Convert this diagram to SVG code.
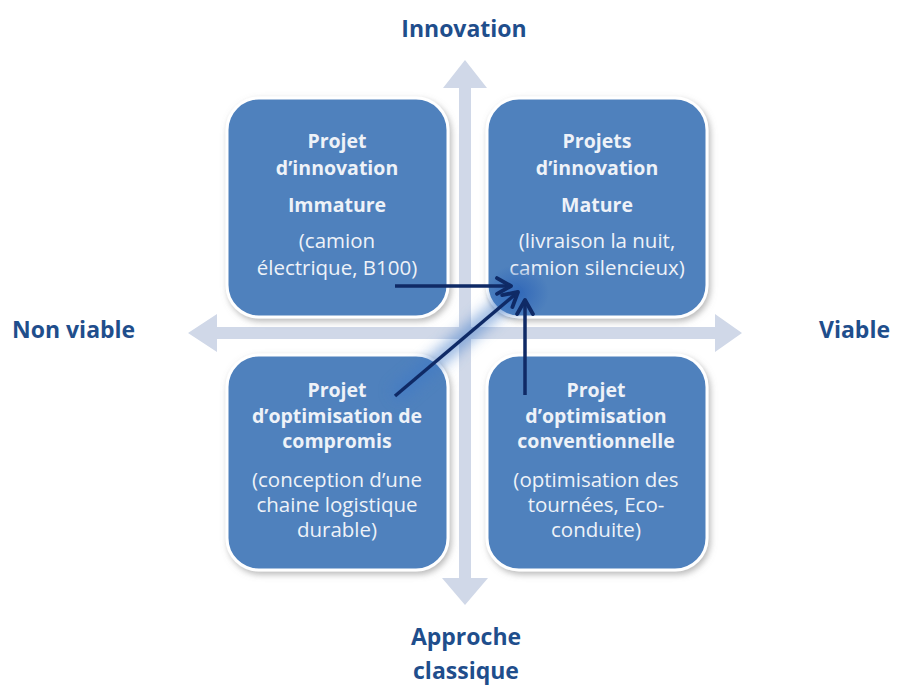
<svg xmlns="http://www.w3.org/2000/svg" width="903" height="686" viewBox="0 0 903 686">
<style>
.box{fill:#4f81bd;stroke:#ffffff;stroke-width:3;filter:url(#sh)}
.t{font-family:"Open Sans","Liberation Sans",sans-serif;font-size:20.5px;fill:#eef2f8;text-anchor:middle}
.b{font-weight:bold;font-size:19.5px}
.ax{font-family:"Open Sans","Liberation Sans",sans-serif;font-size:23px;font-weight:bold;fill:#1f4e8c}
.axis{fill:#d0d8e8}
.con{stroke:#0f2a66;stroke-width:3.5;fill:none;marker-end:url(#ah)}
.glow{stroke:#3c78c8;stroke-width:16;fill:none;opacity:0.55;filter:url(#blur)}
</style>
<defs>
<filter id="sh" x="-10%" y="-10%" width="125%" height="125%">
<feDropShadow dx="2" dy="3" stdDeviation="3" flood-color="#7f7f7f" flood-opacity="0.55"/>
</filter>
<filter id="blur" x="-50%" y="-50%" width="200%" height="200%">
<feGaussianBlur stdDeviation="7"/>
</filter>
<radialGradient id="rg">
<stop offset="0" stop-color="#2f66b8" stop-opacity="0.95"/>
<stop offset="1" stop-color="#2f66b8" stop-opacity="0"/>
</radialGradient>
<marker id="ah" viewBox="0 0 12 12" refX="10" refY="6" markerWidth="6" markerHeight="6" orient="auto" markerUnits="strokeWidth">
<polyline points="2,1.5 10,6 2,10.5" fill="none" stroke="#0f2a66" stroke-width="2.2" stroke-linecap="round" stroke-linejoin="round"/>
</marker>
</defs>
<g id="axes">
<polygon class="axis" points="465,60 487,88 471,88 471,578 488,578 465,605 442,578 459,578 459,88 443,88"/>
<polygon class="axis" points="188,333 217,314 217,327 715,327 715,314 742,333 715,352 715,339 217,339 217,352"/>
</g>
<g id="n1">
<rect class="box" x="227" y="98" width="221" height="219" rx="32"/>
<text class="t b" x="337" y="148">Projet</text>
<text class="t b" x="337" y="175">d’innovation</text>
<text class="t b" x="337" y="212">Immature</text>
<text class="t" x="337" y="248">(camion</text>
<text class="t" x="337" y="275">électrique, B100)</text>
</g>
<g id="n2">
<rect class="box" x="487" y="98" width="220" height="219" rx="32"/>
<text class="t b" x="597" y="148">Projets</text>
<text class="t b" x="597" y="175">d’innovation</text>
<text class="t b" x="597" y="212">Mature</text>
<text class="t" x="597" y="248">(livraison la nuit,</text>
<text class="t" x="597" y="275">camion silencieux)</text>
</g>
<g id="n3">
<rect class="box" x="227" y="355" width="221" height="215" rx="32"/>
<text class="t b" x="337" y="397">Projet</text>
<text class="t b" x="337" y="423">d’optimisation de</text>
<text class="t b" x="337" y="448">compromis</text>
<text class="t" x="337" y="487">(conception d’une</text>
<text class="t" x="337" y="512">chaine logistique</text>
<text class="t" x="337" y="537">durable)</text>
</g>
<g id="n4">
<rect class="box" x="487" y="355" width="220" height="215" rx="32"/>
<text class="t b" x="596" y="397">Projet</text>
<text class="t b" x="596" y="423">d’optimisation</text>
<text class="t b" x="596" y="448">conventionnelle</text>
<text class="t" x="596" y="487">(optimisation des</text>
<text class="t" x="596" y="512">tournées, Eco-</text>
<text class="t" x="596" y="537">conduite)</text>
</g>
<g id="labels">
<text class="ax" x="464" y="37" text-anchor="middle">Innovation</text>
<text class="ax" x="12" y="338">Non viable</text>
<text class="ax" x="819" y="338">Viable</text>
<text class="ax" x="466" y="645" text-anchor="middle">Approche</text>
<text class="ax" x="466" y="679" text-anchor="middle">classique</text>
</g>
<g id="connectors">
<ellipse cx="517" cy="293" rx="32" ry="28" fill="url(#rg)"/>
<line class="glow" x1="395" y1="287" x2="505" y2="287"/>
<line class="glow" x1="395" y1="396" x2="510" y2="298"/>
<line class="glow" x1="525" y1="395" x2="525" y2="305"/>
<line class="con" x1="395" y1="286" x2="511" y2="286"/>
<line class="con" x1="395" y1="396" x2="518" y2="292"/>
<line class="con" x1="525" y1="395" x2="525" y2="300"/>
</g>
</svg>
